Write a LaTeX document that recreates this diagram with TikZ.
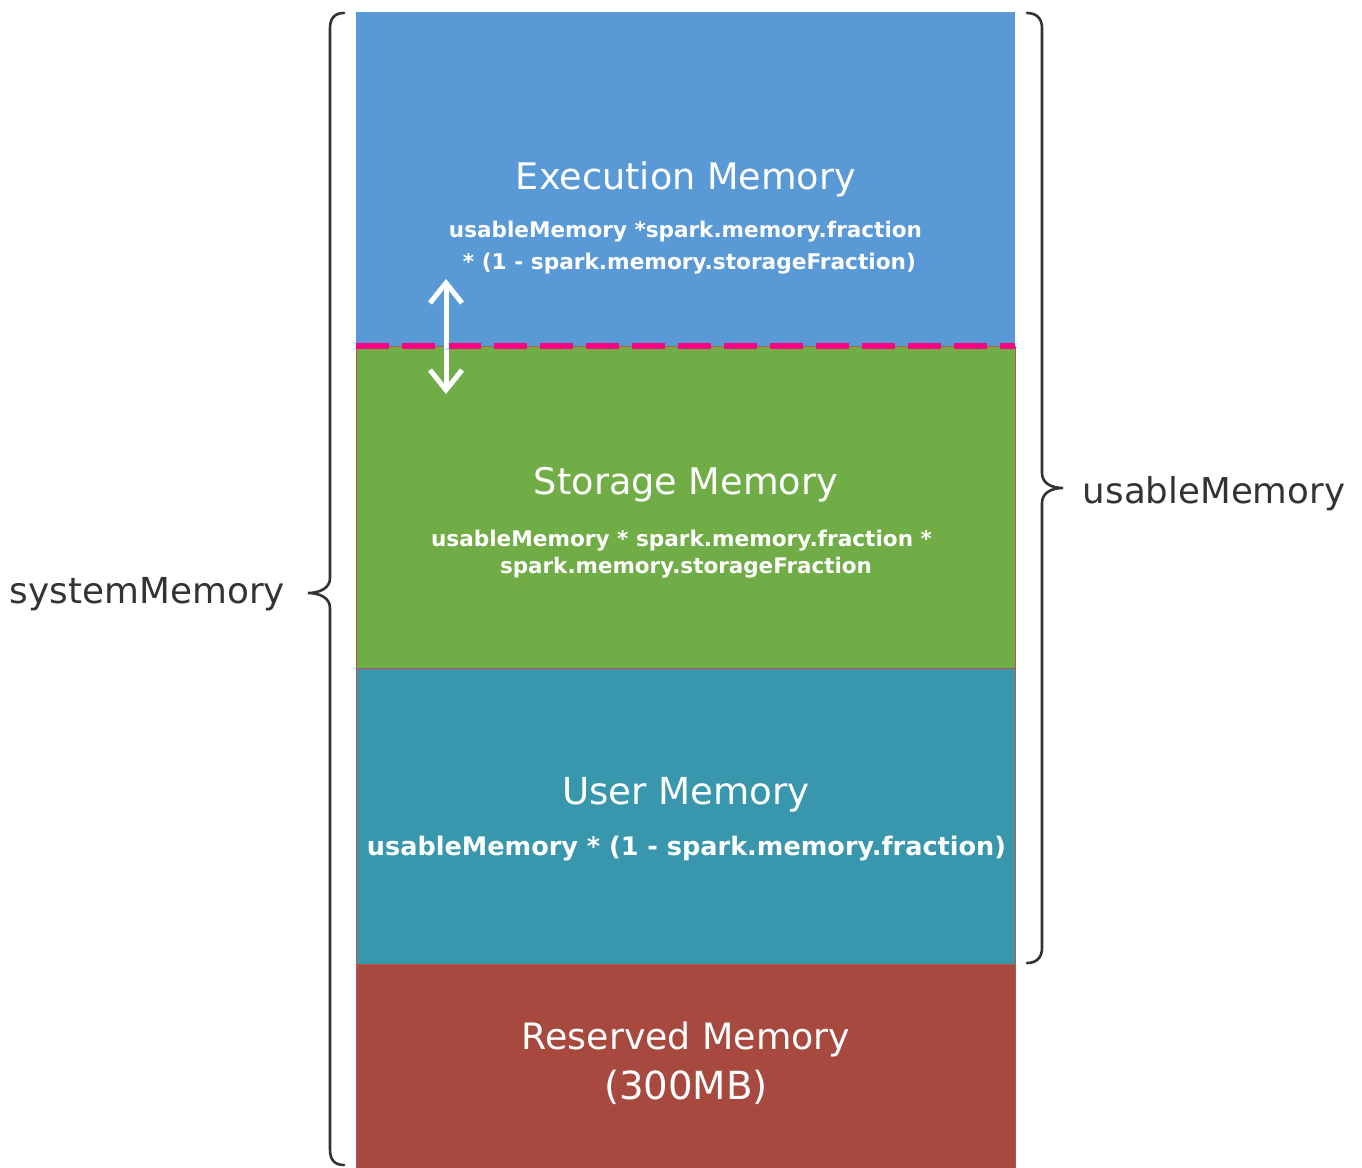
\documentclass[tikz,border=0pt]{standalone}
\usepackage{fontspec}
\setmainfont{DejaVu Sans}
\usetikzlibrary{arrows.meta}
\definecolor{execblue}{HTML}{5899D6}
\definecolor{storegreen}{HTML}{70AD47}
\definecolor{userteal}{HTML}{3896AD}
\definecolor{resred}{HTML}{A84940}
\definecolor{edgered}{HTML}{B85450}
\definecolor{splitpink}{HTML}{FF0080}
\definecolor{bracegray}{HTML}{333333}
% scale a piece of text to a given width (in pt)
\newcommand\fitw[2]{\resizebox{#1pt}{!}{#2}}
\begin{document}
\begin{tikzpicture}[x=1pt,y=-1pt,
  region/.style={rectangle, inner sep=0pt, outer sep=0pt, anchor=north west, minimum width=659pt},
  title/.style={inner sep=0pt, anchor=base, text=white},
  formula/.style={inner sep=0pt, anchor=base, text=white, font=\bfseries},
  sidelabel/.style={inner sep=0pt, anchor=base, text=bracegray},
  brace/.style={draw=bracegray, line width=2.6pt, line cap=round, fill=none},
  split/.style={draw=splitpink, line width=6pt, dash pattern=on 33pt off 13pt},
  shift arrow/.style={draw=white, line width=5pt,
    {Straight Barb[length=20pt,width=32pt]}-{Straight Barb[length=20pt,width=32pt]}}]
\useasboundingbox (0,0) rectangle (1362,1167);
\fill[white] (0,0) rectangle (1362,1167);

% memory regions, top to bottom
\node[region, fill=execblue, minimum height=334pt] (exec) at (356,12) {};
\node[region, fill=storegreen, draw=edgered, line width=1pt, minimum height=322pt] (store) at (356,346) {};
\node[region, fill=userteal, draw=edgered, line width=1pt, minimum height=296pt] (user) at (356,668) {};
\node[region, fill=resred, draw=edgered, line width=1pt, minimum height=205pt] (reserved) at (356,964) {};

% execution / storage boundary
\draw[split] (356,346) -- (1015,346);
\coordinate (shiftup) at (446,279);
\coordinate (shiftdown) at (446,394);
\draw[shift arrow] (shiftup) -- (shiftdown);

% region labels
\node[title] (exectitle) at (686,189) {\fitw{340}{Execution Memory}};
\node[formula] (execf1) at (685.5,237) {\fitw{473}{usableMemory *spark.memory.fraction}};
\node[formula] (execf2) at (689.5,269) {\fitw{453}{* (1 - spark.memory.storageFraction)}};

\node[title] (storetitle) at (686,494) {\fitw{304}{Storage Memory}};
\node[formula] (storef1) at (681.5,546) {\fitw{501}{usableMemory * spark.memory.fraction *}};
\node[formula] (storef2) at (686,573) {\fitw{372}{spark.memory.storageFraction}};

\node[title] (usertitle) at (686,804) {\fitw{248}{User Memory}};
\node[formula] (userf) at (686.5,855) {\fitw{639}{usableMemory * (1 - spark.memory.fraction)}};

\node[title] (restitle) at (686,1049) {\fitw{328}{Reserved Memory}};
\node[title] (ressize) at (686,1099) {\fitw{164}{(300MB)}};

% braces
\draw[brace] (344,13) .. controls (335,13) and (330,18) .. (330,28) -- (330,578)
  .. controls (330,588) and (320,593) .. (308,593)
  .. controls (320,593) and (330,598) .. (330,608) -- (330,1150)
  .. controls (330,1160) and (335,1165) .. (344,1165);
\draw[brace] (1027,13) .. controls (1036,13) and (1042,18) .. (1042,28) -- (1042,473)
  .. controls (1042,483) and (1051,488) .. (1063,488)
  .. controls (1051,488) and (1042,493) .. (1042,503) -- (1042,948)
  .. controls (1042,958) and (1036,963) .. (1027,963);

\node[sidelabel] (sysmem) at (147.5,603) {\fitw{275}{systemMemory}};
\node[sidelabel] (usablemem) at (1214,503) {\fitw{262}{usableMemory}};
\end{tikzpicture}
\end{document}
